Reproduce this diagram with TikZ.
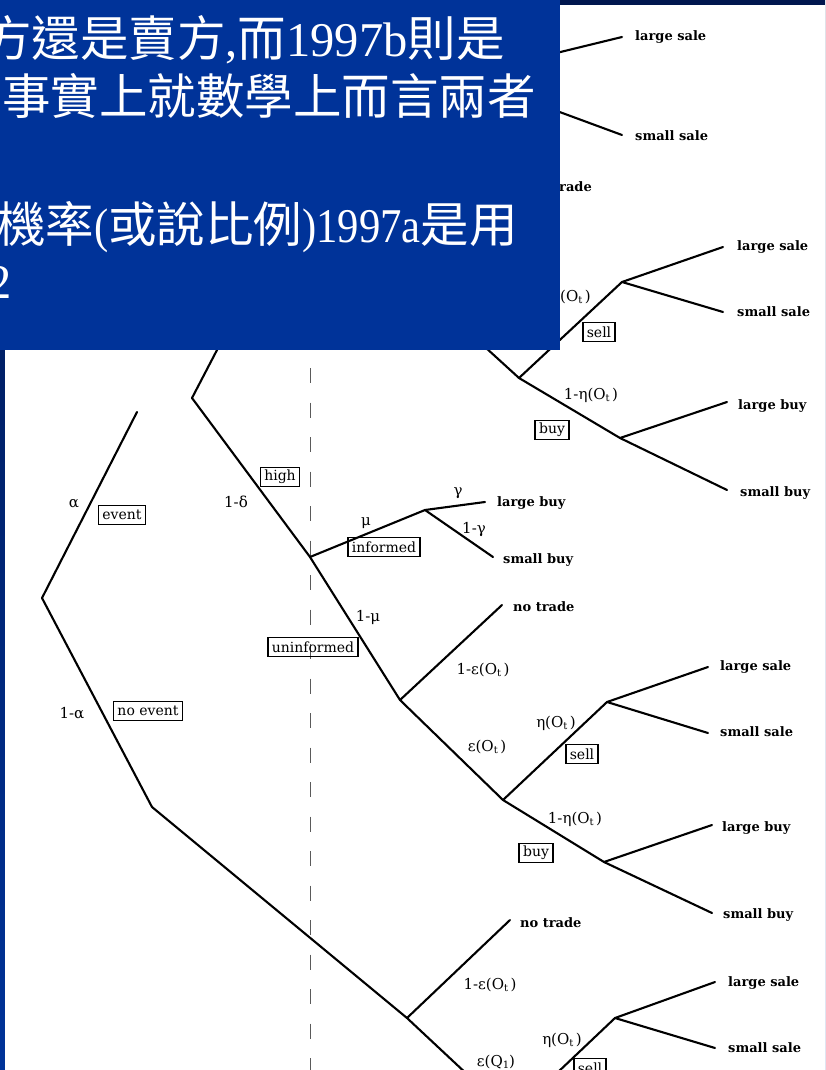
\documentclass[tikz,border=0pt]{standalone}
\usepackage{fontspec}
\newfontfamily\cjkf{Noto Sans CJK TC}
\newfontfamily\latf{Liberation Serif}
\newfontfamily\latn{Liberation Serif}[FakeStretch=0.88]
\newfontfamily\treef{DejaVu Serif}
\definecolor{slideblue}{RGB}{0,51,153}
\definecolor{slidenavy}{RGB}{0,22,78}
\definecolor{dashgray}{RGB}{90,90,90}
\newcommand{\myOt}{O\raisebox{-0.3ex}{\fontsize{10}{10}\selectfont t}}
\newcommand{\myQone}{Q\raisebox{-0.3ex}{\fontsize{10}{10}\selectfont 1}}
\tikzset{
  edge/.style={line width=2.1pt, black, line cap=round, line join=round},
  dashv/.style={line width=1.8pt, dashgray, dash pattern=on 15pt off 19.5pt},
  tbox/.style={draw, line width=1.5pt, inner xsep=4pt, inner ysep=1.5pt, minimum height=19pt,
               font=\treef\fontsize{14}{16}\selectfont},
  lab/.style={inner sep=0pt, font=\treef\fontsize{15}{17}\selectfont},
  outc/.style={anchor=west, inner sep=0pt, font=\treef\bfseries\fontsize{13}{15}\selectfont},
  cjkline/.style={anchor=base west, inner sep=0pt, text=white, font=\fontsize{48.5}{58}\selectfont},
}
\begin{document}
\begin{tikzpicture}[x=1pt,y=-1pt]
\useasboundingbox (0,0) rectangle (825,1070);
% slide background and white panel
\shade[top color=slidenavy, bottom color=slideblue] (0,0) rectangle (825,1070);
\fill[white] (5,5) rectangle (825,1070);

% dashed vertical line
\coordinate (dtop) at (310.5,23);
\coordinate (dbot) at (310.5,1075);
\draw[dashv] (dtop) -- (dbot);

% tree vertices
\coordinate (R) at (42,598);
\coordinate (EvE) at (137,412);
\coordinate (HN) at (192,398);
\coordinate (HNu) at (242,302);
\coordinate (IN) at (310,557);
\coordinate (G) at (425,510);
\coordinate (U) at (400,700);
\coordinate (E2) at (503,800);
\coordinate (S2) at (607,702);
\coordinate (B2) at (604,862);
\coordinate (NE) at (152,807);
\coordinate (N3) at (407,1018);
\coordinate (N3d) at (485,1091);
\coordinate (S3) at (615,1018);
\coordinate (S3d) at (538,1091);
\coordinate (E1) at (519,378);
\coordinate (E1u) at (440,306);
\coordinate (S1) at (622,282);
\coordinate (B1) at (620,438);
\coordinate (T) at (462,76);

% free ends of outcome branches
\coordinate (ls0e) at (622,37);
\coordinate (ss0e) at (622,135);
\coordinate (ls1e) at (723,247);
\coordinate (ss1e) at (723,312);
\coordinate (lb1e) at (727,402);
\coordinate (sb1e) at (727,490);
\coordinate (lbge) at (485,502);
\coordinate (sbge) at (493,557);
\coordinate (nt2e) at (502,605);
\coordinate (ls2e) at (708,667);
\coordinate (ss2e) at (708,733);
\coordinate (lb2e) at (712,825);
\coordinate (sb2e) at (712,913);
\coordinate (nt3e) at (510,920);
\coordinate (ls3e) at (715,982);
\coordinate (ss3e) at (715,1048);

% edges
\draw[edge] (EvE) -- (R) -- (NE) -- (N3) -- (N3d);
\draw[edge] (HNu) -- (HN) -- (IN) -- (U) -- (E2) -- (B2);
\draw[edge] (IN) -- (G) -- (lbge);
\draw[edge] (G) -- (sbge);
\draw[edge] (U) -- (nt2e);
\draw[edge] (E2) -- (S2) -- (ls2e);
\draw[edge] (S2) -- (ss2e);
\draw[edge] (B2) -- (lb2e);
\draw[edge] (B2) -- (sb2e);
\draw[edge] (N3) -- (nt3e);
\draw[edge] (S3d) -- (S3) -- (ls3e);
\draw[edge] (S3) -- (ss3e);
\draw[edge] (E1u) -- (E1) -- (S1) -- (ls1e);
\draw[edge] (S1) -- (ss1e);
\draw[edge] (E1) -- (B1) -- (lb1e);
\draw[edge] (B1) -- (sb1e);
\draw[edge] (T) -- (ls0e);
\draw[edge] (T) -- (ss0e);

% outcome texts
\node[outc] (ls0) at (635,37) {large sale};
\node[outc] (ss0) at (635,136) {small sale};
\node[outc, anchor=east] (nt0) at (592,187) {no trade};
\node[outc] (ls1) at (737,247) {large sale};
\node[outc] (ss1) at (737,312) {small sale};
\node[outc] (lb1) at (738,406) {large buy};
\node[outc] (sb1) at (740,493) {small buy};
\node[outc] (lbg) at (497,503) {large buy};
\node[outc] (sbg) at (503,560) {small buy};
\node[outc] (nt2) at (513,607) {no trade};
\node[outc] (ls2) at (720,667) {large sale};
\node[outc] (ss2) at (720,732) {small sale};
\node[outc] (lb2) at (722,828) {large buy};
\node[outc] (sb2) at (723,915) {small buy};
\node[outc] (nt3) at (520,923) {no trade};
\node[outc] (ls3) at (728,983) {large sale};
\node[outc] (ss3) at (728,1048) {small sale};

% probability labels
\node[lab] (la) at (74,504) {α};
\node[lab] (l1a) at (72,713) {1-α};
\node[lab] (l1d) at (236,502) {1-δ};
\node[lab] (lmu) at (366,523) {μ};
\node[lab] (l1mu) at (368,617) {1-μ};
\node[lab] (lg) at (458,493) {γ};
\node[lab] (l1g) at (474,530) {1-γ};
\node[lab] (leta1) at (571,297) {η(\myOt\,)};
\node[lab] (l1eta1) at (591,395) {1-η(\myOt\,)};
\node[lab] (l1eps2) at (483,670) {1-ε(\myOt\,)};
\node[lab] (leps2) at (487,747) {ε(\myOt\,)};
\node[lab] (leta2) at (556,723) {η(\myOt\,)};
\node[lab] (l1eta2) at (575,819) {1-η(\myOt\,)};
\node[lab] (l1eps3) at (490,985) {1-ε(\myOt\,)};
\node[lab] (leps3) at (496,1062) {ε(\myQone)};
\node[lab] (leta3) at (562,1040) {η(\myOt\,)};

% boxed labels
\node[tbox] (bev) at (122,515) {event};
\node[tbox] (bhigh) at (280,477) {high};
\node[tbox] (binf) at (384,547) {informed};
\node[tbox] (bunf) at (313,647) {uninformed};
\node[tbox] (bnoev) at (148,711) {no event};
\node[tbox] (bsell1) at (599,332) {sell};
\node[tbox] (bbuy1) at (552,430) {buy};
\node[tbox] (bsell2) at (582,754) {sell};
\node[tbox] (bbuy2) at (536,853) {buy};
\node[tbox] (bsell3) at (590,1068) {sell};

% overlay text box
\begin{scope}
\clip (0,0) rectangle (560,350);
\fill[slideblue] (0,0) rectangle (560,350);
\node[cjkline] (tl1) at (-17,57) {{\cjkf 方還是賣方}{\latf ,}{\cjkf 而}{\latf 1997b}{\cjkf 則是}};
\node[cjkline] (tl2) at (2,115) {{\cjkf 事實上就數學上而言兩者}};
\node[cjkline] (tl4) at (-3,242) {{\cjkf 機率}{\latn (}{\cjkf 或說比例}{\latn )1997a}{\cjkf 是用}};
\node[cjkline] (tl5) at (-13,298) {{\latf 2}};
\end{scope}
\end{tikzpicture}
\end{document}
